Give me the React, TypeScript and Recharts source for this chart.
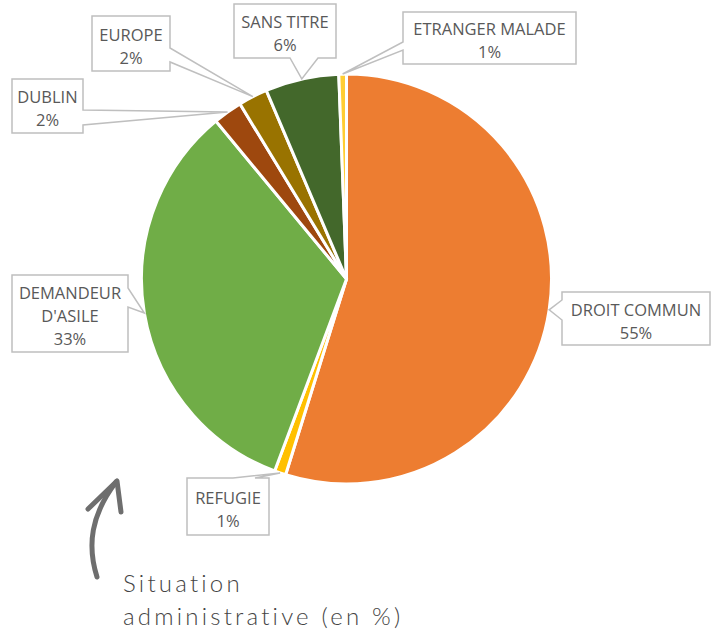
import { PieChart, Pie, Cell } from "recharts";

const categories = [
  "DROIT COMMUN",
  "REFUGIE",
  "DEMANDEUR D'ASILE",
  "DUBLIN",
  "EUROPE",
  "SANS TITRE",
  "ETRANGER MALADE",
];
const shares = [54.8, 0.9, 33.3, 2.3, 2.3, 5.8, 0.6];
const colors = ["#ED7D31", "#FFC000", "#70AD47", "#9E480E", "#997300", "#43682B", "#FFCD33"];

const title = ["Situation", "administrative (en %)"];

// callout boxes, one per slice (layout only)
type Side = "top" | "right" | "bottom" | "left";
type Callout = { x: number; y: number; w: number; h: number; side: Side; b0: number; b1: number; wrap?: boolean };
const callouts: Callout[] = [
  { x: 562, y: 292, w: 148, h: 53, side: "left", b0: 300, b1: 320 },
  { x: 187, y: 478, w: 82, h: 57, side: "top", b0: 233, b1: 255 },
  { x: 12, y: 275, w: 116, h: 77, side: "right", b0: 288, b1: 307, wrap: true },
  { x: 12, y: 79, w: 71, h: 54, side: "right", b0: 110, b1: 125 },
  { x: 92, y: 16, w: 78, h: 55, side: "right", b0: 48, b1: 62 },
  { x: 234, y: 4, w: 102, h: 54, side: "bottom", b0: 290, b1: 318 },
  { x: 403, y: 12, w: 173, h: 52, side: "left", b0: 42, b1: 50 },
];

const data = categories.map((name, i) => ({ name, value: shares[i] }));

const RAD = Math.PI / 180;

function calloutPath(b: Callout, tx: number, ty: number) {
  const { x, y, w, h, side, b0, b1 } = b;
  const r = x + w;
  const btm = y + h;
  const t = `${tx},${ty}`;
  if (side === "top")
    return `M${x},${y} L${b0},${y} L${t} L${b1},${y} L${r},${y} L${r},${btm} L${x},${btm} Z`;
  if (side === "right")
    return `M${x},${y} L${r},${y} L${r},${b0} L${t} L${r},${b1} L${r},${btm} L${x},${btm} Z`;
  if (side === "bottom")
    return `M${x},${y} L${r},${y} L${r},${btm} L${b1},${btm} L${t} L${b0},${btm} L${x},${btm} Z`;
  return `M${x},${y} L${r},${y} L${r},${btm} L${x},${btm} L${x},${b1} L${t} L${x},${b0} Z`;
}

const renderLabel = (props: any) => {
  const { cx, cy, midAngle, outerRadius, index, name, percent } = props;
  const b = callouts[index];
  if (!b) return null;
  const tx = cx + outerRadius * Math.cos(-midAngle * RAD);
  const ty = cy + outerRadius * Math.sin(-midAngle * RAD);
  const lines = b.wrap ? String(name).split(" ") : [String(name)];
  lines.push(`${Math.round(percent * 100)}%`);
  const mid = b.y + b.h / 2 + 2;
  return (
    <g key={`callout-${index}`}>
      <path d={calloutPath(b, tx, ty)} fill="#fff" stroke="#BFBFBF" strokeWidth={1.5} strokeLinejoin="miter" />
      {lines.map((ln, i) => (
        <text
          key={i}
          x={b.x + b.w / 2}
          y={mid - ((lines.length - 1) * 23) / 2 + i * 23}
          textAnchor="middle"
          dominantBaseline="central"
          fontFamily="'Open Sans', sans-serif"
          fontSize={16.5}
          fill="#595959"
        >
          {ln}
        </text>
      ))}
    </g>
  );
};

export default function App() {
  return (
    <div style={{ position: "absolute", left: 0, top: 0, width: 717, height: 632, background: "#fff" }}>
      <PieChart width={717} height={632} margin={{ top: 0, right: 0, bottom: 0, left: 0 }}>
        <Pie
          data={data}
          dataKey="value"
          nameKey="name"
          cx={346.5}
          cy={279}
          outerRadius={205}
          startAngle={90}
          endAngle={-270}
          stroke="#fff"
          strokeWidth={3}
          label={renderLabel}
          labelLine={false}
          isAnimationActive={false}
        >
          {data.map((d, i) => (
            <Cell key={d.name} fill={colors[i]} />
          ))}
        </Pie>
      </PieChart>
      <svg
        width={717}
        height={632}
        style={{ position: "absolute", left: 0, top: 0, pointerEvents: "none" }}
      >
        <path
          d="M97,577 C87,545 91,515 116,482"
          fill="none"
          stroke="#6E6E6E"
          strokeWidth={5}
          strokeLinecap="round"
        />
        <path
          d="M88,509 L117,481 L121,512"
          fill="none"
          stroke="#6E6E6E"
          strokeWidth={5}
          strokeLinecap="round"
          strokeLinejoin="round"
        />
        {title.map((t, i) => (
          <text
            key={t}
            x={123}
            y={592 + i * 33}
            fontFamily="Lato, sans-serif"
            fontWeight={300}
            fontSize={24}
            letterSpacing={3.2}
            fill="#444"
          >
            {t}
          </text>
        ))}
      </svg>
    </div>
  );
}
